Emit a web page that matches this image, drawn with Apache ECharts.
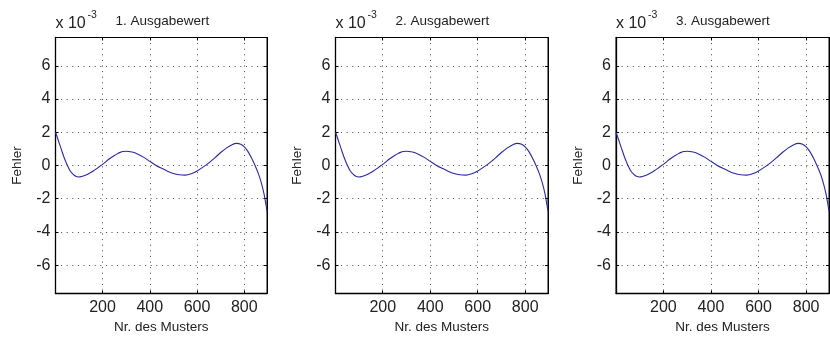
<!DOCTYPE html>
<html>
<head>
<meta charset="utf-8">
<script src="https://cdn.jsdelivr.net/npm/echarts@6/dist/echarts.min.js"></script>
<style>
html,body{margin:0;padding:0;background:#fff;}
#c{width:830px;height:343px;}
</style>
</head>
<body>
<div id="c"></div>
<script>
// ---- data (error values in units of 1e-3) ----
const panelTitles = ['1. Ausgabewert', '2. Ausgabewert', '3. Ausgabewert'];
const xTicks = [200, 400, 600, 800];
const yTicks = [-6, -4, -2, 0, 2, 4, 6];
const patternNr = [1, 12, 25, 37, 50, 62, 75, 87, 100, 112, 125, 137, 150, 162, 175, 187, 200, 212, 225, 237, 250, 262, 275, 287, 300, 325, 350, 375, 400, 425, 450, 475, 500, 525, 550, 575, 600, 625, 650, 675, 700, 725, 750, 767, 785, 800, 815, 830, 845, 860, 872, 884, 896];
const err1 = [2.0, 1.55, 1.0, 0.5, 0.05, -0.3, -0.52, -0.65, -0.69, -0.66, -0.6, -0.52, -0.42, -0.32, -0.19, -0.06, 0.07, 0.2, 0.36, 0.48, 0.6, 0.7, 0.79, 0.84, 0.86, 0.81, 0.68, 0.49, 0.25, 0.02, -0.17, -0.34, -0.48, -0.56, -0.58, -0.5, -0.33, -0.1, 0.16, 0.46, 0.78, 1.06, 1.27, 1.33, 1.28, 1.12, 0.85, 0.47, 0.02, -0.5, -1.05, -1.75, -2.75];
const err2 = [2.0, 1.55, 1.0, 0.5, 0.05, -0.3, -0.52, -0.65, -0.69, -0.66, -0.6, -0.52, -0.42, -0.32, -0.19, -0.06, 0.07, 0.2, 0.36, 0.48, 0.6, 0.7, 0.79, 0.84, 0.86, 0.81, 0.68, 0.49, 0.25, 0.02, -0.17, -0.34, -0.48, -0.56, -0.58, -0.5, -0.33, -0.1, 0.16, 0.46, 0.78, 1.06, 1.27, 1.33, 1.28, 1.12, 0.85, 0.47, 0.02, -0.5, -1.05, -1.75, -2.75];
const err3 = [2.0, 1.55, 1.0, 0.5, 0.05, -0.3, -0.52, -0.65, -0.69, -0.66, -0.6, -0.52, -0.42, -0.32, -0.19, -0.06, 0.07, 0.2, 0.36, 0.48, 0.6, 0.7, 0.79, 0.84, 0.86, 0.81, 0.68, 0.49, 0.25, 0.02, -0.17, -0.34, -0.48, -0.56, -0.58, -0.5, -0.33, -0.1, 0.16, 0.46, 0.78, 1.06, 1.27, 1.33, 1.28, 1.12, 0.85, 0.47, 0.02, -0.5, -1.05, -1.75, -2.75];
const errors = [err1, err2, err3];

// ---- layout ----
const FONT = '"Liberation Sans", Arial, Helvetica, sans-serif';
const gridBoxes = [
  {left: 55.5, top: 37.5, width: 211.5, height: 256},
  {left: 335.5, top: 37.5, width: 212.5, height: 256},
  {left: 616, top: 37.5, width: 213, height: 256}
];
const X_MIN = 1, X_MAX = 896, Y_MIN = -7.7, Y_MAX = 7.7;
const gridDots = {color: '#444', width: 1, type: [1, 4.6]};
const lineColor = '#2a2a9c';

const grids = [], xAxes = [], yAxes = [], series = [], graphics = [];
gridBoxes.forEach((g, i) => {
  grids.push({left: g.left, top: g.top, width: g.width, height: g.height,
    show: true, borderColor: '#000', borderWidth: 1, backgroundColor: 'transparent', containLabel: false});
  // bottom x axis
  xAxes.push({type: 'value', gridIndex: i, position: 'bottom', min: X_MIN, max: X_MAX,
    minInterval: 200, maxInterval: 200, splitNumber: 5,
    name: 'Nr. des Musters', nameLocation: 'middle', nameGap: 26,
    nameTextStyle: {fontFamily: FONT, fontSize: 13.5, color: '#222'},
    axisLine: {show: true, onZero: false, lineStyle: {color: '#000', width: 1.3}},
    axisTick: {show: true, inside: true, length: 3, lineStyle: {color: '#000'}},
    axisLabel: {show: true, margin: 6, showMinLabel: false, showMaxLabel: false,
      fontFamily: FONT, fontSize: 16, color: '#222',
      formatter: v => (xTicks.indexOf(v) >= 0 ? String(v) : '')},
    splitLine: {show: true, lineStyle: gridDots}
  });
  // top mirror x axis (ticks only)
  xAxes.push({type: 'value', gridIndex: i, position: 'top', min: X_MIN, max: X_MAX,
    minInterval: 200, maxInterval: 200, splitNumber: 5,
    axisLine: {show: true, onZero: false, lineStyle: {color: '#000', width: 1}},
    axisTick: {show: true, inside: true, length: 3, lineStyle: {color: '#000'}},
    axisLabel: {show: false}, splitLine: {show: false}
  });
  // left y axis
  yAxes.push({type: 'value', gridIndex: i, position: 'left', min: Y_MIN, max: Y_MAX,
    minInterval: 2, maxInterval: 2, splitNumber: 8,
    name: 'Fehler', nameLocation: 'middle', nameGap: 31, nameRotate: 90,
    nameTextStyle: {fontFamily: FONT, fontSize: 13.5, color: '#222'},
    axisLine: {show: true, onZero: false, lineStyle: {color: '#000', width: 1.3}},
    axisTick: {show: true, inside: true, length: 3, lineStyle: {color: '#000'}},
    axisLabel: {show: true, margin: 5, showMinLabel: false, showMaxLabel: false,
      fontFamily: FONT, fontSize: 16, color: '#222',
      formatter: v => (yTicks.indexOf(v) >= 0 ? String(v) : '')},
    splitLine: {show: true, lineStyle: gridDots}
  });
  // right mirror y axis (ticks only)
  yAxes.push({type: 'value', gridIndex: i, position: 'right', min: Y_MIN, max: Y_MAX,
    minInterval: 2, maxInterval: 2, splitNumber: 8,
    axisLine: {show: true, onZero: false, lineStyle: {color: '#000', width: 1}},
    axisTick: {show: true, inside: true, length: 3, lineStyle: {color: '#000'}},
    axisLabel: {show: false}, splitLine: {show: false}
  });
  series.push({type: 'line', xAxisIndex: 2 * i, yAxisIndex: 2 * i,
    data: patternNr.map((x, k) => [x, errors[i][k]]),
    smooth: 0.3, showSymbol: false, symbol: 'none', clip: true,
    lineStyle: {color: lineColor, width: 1.1}, animation: false});
  // exponent label and panel title
  graphics.push({type: 'text', left: g.left, top: 15.5,
    style: {text: 'x 10', font: '16px ' + FONT, fill: '#222'}});
  graphics.push({type: 'text', left: g.left + 32, top: 9.5,
    style: {text: '-3', font: '10.5px ' + FONT, fill: '#222'}});
  graphics.push({type: 'text', left: g.left + 60, top: 14.5,
    style: {text: panelTitles[i], font: '13.5px ' + FONT, fill: '#222'}});
});

const chart = echarts.init(document.getElementById('c'), null, {renderer: 'canvas'});
chart.setOption({
  animation: false,
  backgroundColor: '#fff',
  grid: grids, xAxis: xAxes, yAxis: yAxes, series: series, graphic: graphics
});
</script>
</body>
</html>
